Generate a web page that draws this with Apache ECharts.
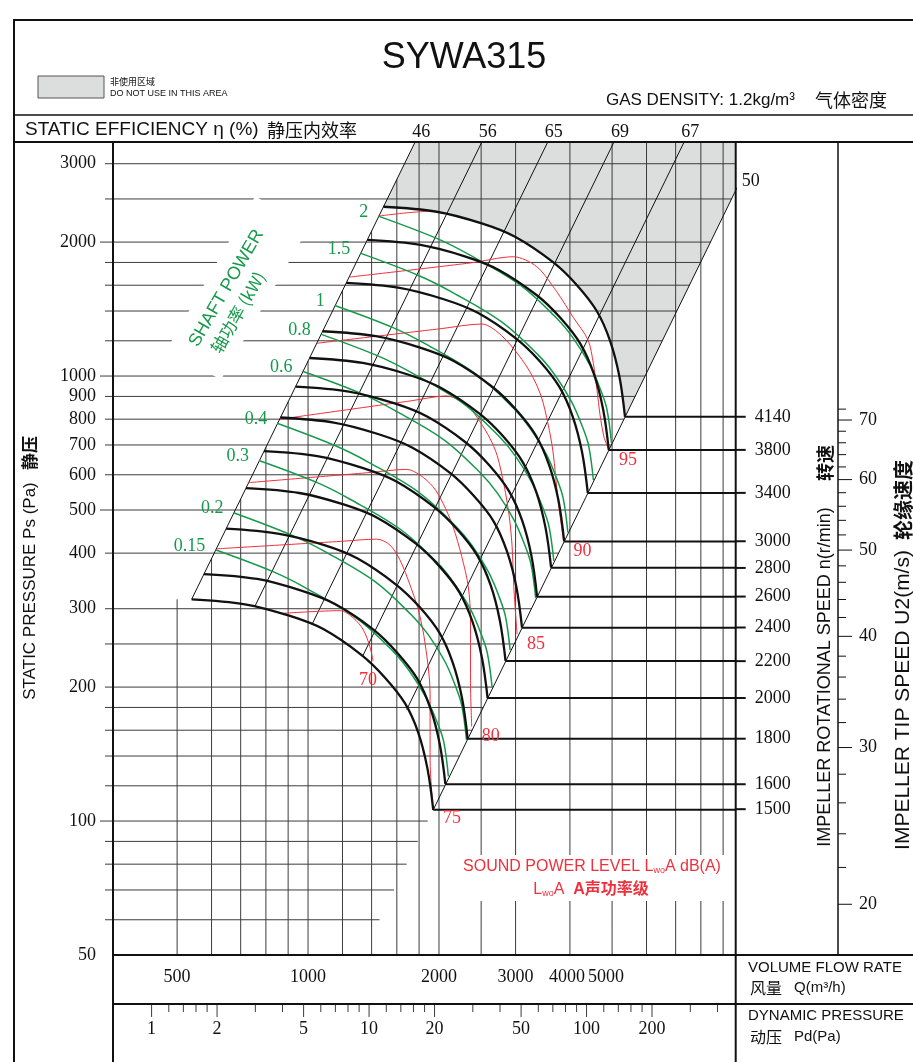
<!DOCTYPE html>
<html>
<head>
<meta charset="utf-8">
<script src="https://cdn.jsdelivr.net/npm/echarts@6/dist/echarts.min.js"></script>
<style>html,body{margin:0;padding:0;background:#fff}#c{width:913px;height:1062px}</style>
</head>
<body>
<div id="c"></div>
<script>
// ================= DATA =================
// Fan curves: static pressure Ps (Pa) vs volume flow Q (m3/h) for each speed (r/min)
const speeds = [4140, 3800, 3400, 3000, 2800, 2600, 2400, 2200, 2000, 1800, 1600, 1500];
const curve4140 = [[1490,2401],[1976,2340],[2508,2203],[2991,2056],[3664,1800],[4147,1602],[4610,1400],[4947,1200],[5195,1000],[5354,810]];
const curve3800 = [[1368,2023],[1814,1971],[2302,1856],[2745,1732],[3363,1517],[3806,1350],[4231,1180],[4541,1011],[4768,842],[4914,682]];
const curve3400 = [[1224,1619],[1623,1578],[2060,1486],[2456,1387],[3009,1214],[3406,1081],[3786,944],[4063,809],[4266,674],[4397,546]];
const curve3000 = [[1080,1261],[1432,1229],[1817,1157],[2167,1080],[2655,945],[3005,841],[3341,735],[3585,630],[3765,525],[3880,425]];
const curve2800 = [[1008,1098],[1336,1070],[1696,1008],[2023,940],[2478,823],[2805,733],[3118,640],[3346,549],[3514,457],[3621,371]];
const curve2600 = [[936,947],[1241,923],[1575,869],[1878,811],[2301,710],[2604,632],[2895,552],[3107,473],[3263,394],[3362,319]];
const curve2400 = [[864,807],[1146,786],[1454,740],[1734,691],[2124,605],[2404,538],[2673,471],[2868,403],[3012,336],[3104,272]];
const curve2200 = [[792,678],[1050,661],[1333,622],[1589,581],[1947,508],[2204,452],[2450,395],[2629,339],[2761,282],[2845,229]];
const curve2000 = [[720,560],[955,546],[1212,514],[1445,480],[1770,420],[2003,374],[2227,327],[2390,280],[2510,233],[2587,189]];
const curve1800 = [[648,454],[859,442],[1090,417],[1300,389],[1593,340],[1803,303],[2004,265],[2151,227],[2259,189],[2328,153]];
const curve1600 = [[576,359],[764,350],[969,329],[1156,307],[1416,269],[1603,239],[1782,209],[1912,179],[2008,149],[2069,121]];
const curve1500 = [[540,315],[716,307],[909,289],[1084,270],[1328,236],[1503,210],[1670,184],[1792,158],[1882,131],[1940,106]];

// Shaft power contours (kW)
const powerLabels = ['2', '1.5', '1', '0.8', '0.6', '0.4', '0.3', '0.2', '0.15'];
const power2    = [[1451,2288],[1976,2039],[2357,1870],[3072,1602],[3730,1348],[4073,1215],[4449,1058],[4692,938],[4860,846],[4985,707]];
const power1_5  = [[1318,1889],[1795,1683],[2142,1544],[2791,1322],[3389,1113],[3701,1003],[4042,873],[4263,774],[4416,698],[4529,584]];
const power1    = [[1152,1441],[1568,1285],[1871,1178],[2438,1009],[2961,849],[3233,765],[3531,667],[3724,591],[3857,533],[3957,445]];
const power0_8  = [[1069,1242],[1456,1107],[1737,1015],[2264,870],[2748,732],[3001,660],[3278,574],[3457,509],[3581,459],[3673,384]];
const power0_6  = [[971,1025],[1323,914],[1578,838],[2057,718],[2497,604],[2727,545],[2978,474],[3141,420],[3253,379],[3337,317]];
const power0_4  = [[849,783],[1156,697],[1378,640],[1797,548],[2181,461],[2382,416],[2602,362],[2744,321],[2842,289],[2915,242]];
const power0_3  = [[771,646],[1050,576],[1252,528],[1632,452],[1982,381],[2164,343],[2364,299],[2493,265],[2582,239],[2649,200]];
const power0_2  = [[674,493],[917,439],[1094,403],[1426,345],[1731,290],[1891,262],[2065,228],[2178,202],[2256,182],[2314,152]];
const power0_15 = [[612,407],[833,363],[994,333],[1296,285],[1573,240],[1718,216],[1876,188],[1979,167],[2050,151],[2102,126]];

// Sound power level contours LwoA dB(A)
const soundLabels = ['70', '75', '80', '85', '90', '95'];
const sound70  = [[877,293],[1185,297],[1271,286],[1340,269],[1388,246],[1411,229]];
const sound75  = [[617,409],[1185,425],[1439,430],[1543,417],[1627,386],[1716,339],[1793,298],[1858,251],[1908,194],[1908,137],[1938,107]];
const sound80  = [[729,576],[1388,607],[1686,617],[1809,599],[1938,564],[2043,518],[2154,459],[2256,393],[2336,336],[2363,283],[2363,207],[2378,163]];
const sound85  = [[862,800],[1716,879],[2084,902],[2236,881],[2357,846],[2486,789],[2620,724],[2720,664],[2822,569],[2898,487],[2944,417],[2975,330],[3024,263]];
const sound90  = [[1049,1185],[2011,1277],[2512,1309],[2720,1258],[2965,1154],[3238,1022],[3433,902],[3563,780],[3658,675],[3756,526],[3867,426]];
const sound95  = [[1246,1669],[2357,1795],[2965,1854],[3355,1761],[3730,1547],[4073,1354],[4402,1205],[4528,1068],[4617,930],[4692,817],[4792,729],[4920,682]];
const sound100 = [[1451,2288],[1671,2325],[1908,2349]];

// Static efficiency lines (%) (straight system lines in log-log)
const effLabels = ['46', '56', '65', '69', '67', '50'];
const eff46 = [[540,315],[1924,4000]];
const eff56 = [[755,304],[2739,4000]];
const eff65 = [[1020,276],[3883,4000]];
const eff69 = [[1333,234],[5513,4000]];
const eff67 = [[1686,178],[7992,4000]];
const eff50 = [[1940,106],[11000,3417]];

// Axis extents and tick values
const Q_MIN = 356.1, Q_MAX = 9620;       // volume flow m3/h
const P_MIN = 50, P_MAX = 3357;          // static pressure Pa
const PD_MIN = 0.6646, PD_MAX = 485.1;   // dynamic pressure Pa
const N_MIN = 1028.6, N_MAX = 8428;      // rotational speed r/min
const U_MIN = 17.54, U_MAX = 143.7;      // tip speed m/s
const xTickLabels = [500, 1000, 2000, 3000, 4000, 5000];
const yTickLabels = [50, 100, 200, 300, 400, 500, 600, 700, 800, 900, 1000, 2000, 3000];
const gridQ = [500, 600, 700, 800, 900, 1000, 1200, 1400, 1600, 1800, 2000, 2500, 3000, 4000, 5000, 6000, 7000, 8000, 9000];
const gridP = [60, 70, 80, 90, 100, 120, 140, 160, 180, 200, 250, 300, 400, 500, 600, 700, 800, 900, 1000, 1200, 1400, 1600, 1800, 2000, 2500, 3000];
const majorPTicks = [100, 500, 1000, 2000];
const pdTickLabels = [1, 2, 5, 10, 20, 50, 100, 200];
const pdMinorTicks = [1.2, 1.4, 1.6, 1.8, 3, 4, 6, 7, 8, 9, 12, 14, 16, 18, 30, 40, 60, 70, 80, 90, 120, 140, 160, 180, 300, 400];
const tipTickLabels = [20, 30, 40, 50, 60, 70];
const tipMinorTicks = [22, 24, 26, 28, 32, 34, 36, 38, 42, 44, 46, 48, 52, 54, 56, 58, 62, 64, 66, 68, 72];

// ================= STYLE / LAYOUT =================
const BLACK = '#111111', GRID_C = '#3c3c3c', GREEN = '#16994b', RED = '#f0303c', GREY = '#dcdddd';
const SERIF = '"Liberation Serif", "Times New Roman", serif';
const SANS = '"Liberation Sans", Arial, sans-serif';
const CJK = '"Noto Sans CJK SC", sans-serif';
const PL = 113, PT = 142, PR = 735.7, PB = 955, PD_TOP = 1004, TIP_X = 838;
const xLabelShift = { 4000: -3, 5000: -6 };

const speedCurves = [curve4140, curve3800, curve3400, curve3000, curve2800, curve2600, curve2400, curve2200, curve2000, curve1800, curve1600, curve1500];
const powerCurves = [power2, power1_5, power1, power0_8, power0_6, power0_4, power0_3, power0_2, power0_15];
const soundCurves = [sound70, sound75, sound80, sound85, sound90, sound95];
const effLines = [eff46, eff56, eff65, eff69, eff67, eff50];
const kOf = l => l[0][1] / (l[0][0] * l[0][0]);
const K46 = kOf(eff46), K50 = kOf(eff50);
const greyPts = [eff46[1], [eff50[1][0], eff46[1][1]], eff50[1]].concat(curve4140.slice().reverse());

function txt(x, y, text, font, fill, align, va, extra) {
  return { type: 'text', x, y, style: Object.assign({ text, font, fill, align, verticalAlign: va, textAlign: align, textVerticalAlign: va }, extra || {}) };
}
function seg(x1, y1, x2, y2, w, c) {
  return { type: 'line', shape: { x1, y1, x2, y2 }, style: { stroke: c || BLACK, lineWidth: w } };
}
function marks(xi, yi, pts, draw, z, clip) {
  return {
    type: 'custom', xAxisIndex: xi, yAxisIndex: yi, coordinateSystem: 'cartesian2d',
    clip: !!clip, silent: true, z: z || 8, animation: false, data: pts,
    renderItem: (params, api) => draw(api.coord([api.value(0), api.value(1)]), params.dataIndex, api)
  };
}
function lineSeries(data, color, width, z, smooth) {
  return {
    type: 'line', xAxisIndex: 0, yAxisIndex: 0, data, showSymbol: false, symbol: 'none',
    smooth: smooth || false, lineStyle: { color, width }, z, silent: true, animation: false, clip: true
  };
}

const series = [];
// "do not use" area
series.push({
  type: 'custom', xAxisIndex: 0, yAxisIndex: 0, clip: true, silent: true, z: 1, animation: false,
  data: [[1000, 1000]],
  renderItem: (params, api) => ({ type: 'polygon', shape: { points: greyPts.map(p => api.coord(p)), smooth: 0 }, style: { fill: GREY } })
});
// horizontal grid lines (end on the 50% system line)
series.push(marks(0, 0, gridP.map(p => [Q_MIN, p]), (pt, i, api) => {
  const p = gridP[i];
  const b = api.coord([Math.min(Q_MAX, Math.sqrt(p / K50)), p]);
  return seg(pt[0], pt[1], b[0], b[1], 1, GRID_C);
}, 2, true));
// vertical grid lines (end on the 46% system line)
series.push(marks(0, 0, gridQ.map(q => [q, P_MIN]), (pt, i, api) => {
  const q = gridQ[i];
  const top = q < eff46[0][0] ? curve1500[0][1] : Math.min(P_MAX, K46 * q * q);
  const b = api.coord([q, top]);
  return seg(pt[0], pt[1], b[0], b[1], 1, GRID_C);
}, 2, true));
// efficiency lines
effLines.forEach(l => series.push(lineSeries(l, BLACK, 1, 3, false)));
// sound contours
[sound100].concat(soundCurves).forEach(c => series.push(lineSeries(c, RED, 1, 4, 0.3)));
// shaft power contours
powerCurves.forEach(c => series.push(lineSeries(c, GREEN, 1.5, 5, 0.35)));
// fan curves
speedCurves.forEach(c => series.push(lineSeries(c, BLACK, 2.3, 6, 0.35)));
// speed lines
speedCurves.forEach(c => { const e = c[c.length - 1]; series.push(lineSeries([e, [Q_MAX, e[1]]], BLACK, 2, 6, false)); });

// left axis ticks & labels
series.push(marks(0, 0, gridP.map(p => [Q_MIN, p]), (pt, i) => {
  const len = majorPTicks.indexOf(gridP[i]) >= 0 ? 13 : 8;
  return seg(pt[0] - len, pt[1], pt[0], pt[1], 1, GRID_C);
}));
series.push(marks(0, 0, yTickLabels.map(p => [Q_MIN, p]), (pt, i) =>
  txt(pt[0] - 17, pt[1], String(yTickLabels[i]), `18px ${SERIF}`, BLACK, 'right', 'middle')));
// flow labels
series.push(marks(0, 0, xTickLabels.map(q => [q, P_MIN]), (pt, i) =>
  txt(pt[0] + (xLabelShift[xTickLabels[i]] || 0), pt[1] + 22, String(xTickLabels[i]), `18px ${SERIF}`, BLACK, 'center', 'middle')));
// dynamic pressure ticks & labels
series.push(marks(1, 3, pdMinorTicks.map(v => [v, 1]), (pt) => seg(pt[0], pt[1], pt[0], pt[1] + 8, 1, GRID_C)));
series.push(marks(1, 3, pdTickLabels.map(v => [v, 1]), (pt, i) => ({
  type: 'group', children: [
    seg(pt[0], pt[1], pt[0], pt[1] + 13, 1, GRID_C),
    txt(pt[0], pt[1] + 25, String(pdTickLabels[i]), `18px ${SERIF}`, BLACK, 'center', 'middle')
  ]
})));
// rotational speed ticks & labels
series.push(marks(0, 1, speeds.map(n => [Q_MAX, n]), (pt, i) => ({
  type: 'group', children: [
    seg(pt[0], pt[1], pt[0] + 10, pt[1], 2, BLACK),
    txt(pt[0] + 19, pt[1], String(speeds[i]), `18px ${SERIF}`, BLACK, 'left', 'middle')
  ]
})));
// tip speed ticks & labels
series.push(marks(0, 2, tipMinorTicks.map(u => [Q_MAX, u]), (pt) => seg(TIP_X, pt[1], TIP_X + 8, pt[1], 1, BLACK)));
series.push(marks(0, 2, tipTickLabels.map(u => [Q_MAX, u]), (pt, i) => ({
  type: 'group', children: [
    seg(TIP_X, pt[1], TIP_X + 14, pt[1], 1, BLACK),
    txt(TIP_X + 21, pt[1], String(tipTickLabels[i]), `18px ${SERIF}`, BLACK, 'left', 'middle')
  ]
})));
// shaft power labels
series.push(marks(0, 0, powerCurves.map(c => c[0]), (pt, i) =>
  txt(pt[0] - 10, pt[1] - 4, powerLabels[i], `18px ${SERIF}`, GREEN, 'right', 'middle')));
// sound labels
series.push(marks(0, 0, soundCurves.map(c => c[c.length - 1]), (pt, i) =>
  txt(pt[0] + (i === 0 ? -5 : 19), pt[1] + (i === 0 ? 19 : 10), soundLabels[i], `18px ${SERIF}`, RED, 'center', 'middle')));
// efficiency labels on top
series.push(marks(0, 0, effLines.slice(0, 5).map(l => [Math.sqrt(P_MAX / kOf(l)), P_MAX]), (pt, i) =>
  txt(pt[0] + 6, pt[1] - 10, effLabels[i], `18px ${SERIF}`, BLACK, 'center', 'middle')));
series.push(marks(0, 0, [[Q_MAX, K50 * Q_MAX * Q_MAX]], (pt) =>
  txt(pt[0] + 6, pt[1] - 10, effLabels[5], `18px ${SERIF}`, BLACK, 'left', 'middle')));

// ================= GRAPHIC (frame & titles) =================
const G = [];
const gl = (x1, y1, x2, y2, w) => Object.assign(seg(x1, y1, x2, y2, w, BLACK), { z: 50, silent: true });
G.push(gl(14, 20, 913, 20, 2), gl(14, 19, 14, 1062, 2), gl(14, 115, 913, 115, 1.5), gl(14, 142, 913, 142, 2));
G.push(gl(PL, PT, PL, 1062, 2), gl(PL, PB, 913, PB, 2), gl(PL, PD_TOP, 913, PD_TOP, 2));
G.push(gl(PR, PT, PR, 1062, 2), gl(TIP_X, PT, TIP_X, PB, 1.5));
const gt = (x, y, text, font, fill, align, va, rot, extra) => Object.assign(txt(x, y, text, font, fill, align, va, extra), { z: 60, silent: true, rotation: rot || 0 });

G.push(gt(464, 58, 'SYWA315', `36px ${SANS}`, BLACK, 'center', 'middle'));
G.push({ type: 'rect', shape: { x: 38, y: 76, width: 66, height: 22 }, style: { fill: GREY, stroke: '#555', lineWidth: 1 }, z: 60, silent: true });
G.push(gt(110, 82, '非使用区域', `9px ${CJK}`, BLACK, 'left', 'middle'));
G.push(gt(110, 94, 'DO NOT USE IN THIS AREA', `9px ${SANS}`, BLACK, 'left', 'middle'));
G.push(gt(606, 100, 'GAS DENSITY: 1.2kg/m³', `17px ${SANS}`, BLACK, 'left', 'middle'));
G.push(gt(815, 100, '气体密度', `18px ${CJK}`, BLACK, 'left', 'middle'));
G.push(gt(25, 130, 'STATIC EFFICIENCY η (%)', `19px ${SANS}`, BLACK, 'left', 'middle'));
G.push(gt(267, 130, '静压内效率', `18px ${CJK}`, BLACK, 'left', 'middle'));
// axis titles (rotated)
G.push(gt(30, 591, 'STATIC PRESSURE Ps (Pa)', `17px ${SANS}`, BLACK, 'center', 'middle', Math.PI / 2));
G.push(gt(30, 453, '静压', `bold 17px ${CJK}`, BLACK, 'center', 'middle', Math.PI / 2));
G.push(gt(825, 677, 'IMPELLER ROTATIONAL SPEED n(r/min)', `18px ${SANS}`, BLACK, 'center', 'middle', Math.PI / 2));
G.push(gt(825, 463, '转速', `bold 18px ${CJK}`, BLACK, 'center', 'middle', Math.PI / 2));
G.push(gt(903, 700, 'IMPELLER TIP SPEED U2(m/s)', `21px ${SANS}`, BLACK, 'center', 'middle', Math.PI / 2));
G.push(gt(903, 500, '轮缘速度', `bold 20px ${CJK}`, BLACK, 'center', 'middle', Math.PI / 2));
// bottom-right captions
G.push(gt(748, 968, 'VOLUME FLOW RATE', `15px ${SANS}`, BLACK, 'left', 'middle'));
G.push(gt(750, 988, '风量', `16px ${CJK}`, BLACK, 'left', 'middle'));
G.push(gt(794, 988, 'Q(m³/h)', `15px ${SANS}`, BLACK, 'left', 'middle'));
G.push(gt(748, 1016, 'DYNAMIC PRESSURE', `15px ${SANS}`, BLACK, 'left', 'middle'));
G.push(gt(750, 1037, '动压', `16px ${CJK}`, BLACK, 'left', 'middle'));
G.push(gt(794, 1037, 'Pd(Pa)', `15px ${SANS}`, BLACK, 'left', 'middle'));
// sound power caption with white box
G.push({ type: 'rect', shape: { x: 460, y: 855, width: 266, height: 46 }, style: { fill: '#fff' }, z: 55, silent: true });
const RICH = {
  a: { fontSize: 16, fontFamily: SANS, fill: RED, color: RED },
  s: { fontSize: 9, fontFamily: SANS, fill: RED, color: RED, verticalAlign: 'bottom' },
  b: { fontSize: 16, fontFamily: '"Liberation Sans", "Noto Sans CJK SC"', fontWeight: 'bold', fill: RED, color: RED }
};
G.push(gt(592, 867, '{a|SOUND POWER LEVEL L}{s|wo}{a|A dB(A)}', `16px ${SANS}`, RED, 'center', 'middle', 0, { rich: RICH }));
G.push(gt(591, 890, '{a|L}{s|wo}{a|A  }{b|A声功率级}', `16px ${SANS}`, RED, 'center', 'middle', 0, { rich: RICH }));
// shaft power caption with white background (rotated)
G.push({
  type: 'group', x: 238, y: 288, rotation: Math.PI / 3, z: 55, silent: true, children: [
    { type: 'rect', shape: { x: -88, y: -31, width: 176, height: 62 }, style: { fill: '#fff' }, z: 55 },
    Object.assign(txt(-6, -10, 'SHAFT POWER', `18px ${SANS}`, GREEN, 'center', 'middle'), { z: 56 }),
    Object.assign(txt(-21, 12, '轴功率 (kW)', `17px ${CJK}`, GREEN, 'center', 'middle'), { z: 56 })
  ]
});

const option = {
  animation: false,
  backgroundColor: '#fff',
  grid: [
    { left: PL, top: PT, width: PR - PL, height: PB - PT, containLabel: false, show: false },
    { left: PL, top: PD_TOP, width: PR - PL, height: 1062 - PD_TOP, containLabel: false, show: false }
  ],
  xAxis: [
    { gridIndex: 0, type: 'log', min: Q_MIN, max: Q_MAX, show: false },
    { gridIndex: 1, type: 'log', min: PD_MIN, max: PD_MAX, show: false }
  ],
  yAxis: [
    { gridIndex: 0, type: 'log', min: P_MIN, max: P_MAX, show: false },
    { gridIndex: 0, type: 'log', min: N_MIN, max: N_MAX, show: false },
    { gridIndex: 0, type: 'log', min: U_MIN, max: U_MAX, show: false },
    { gridIndex: 1, type: 'value', min: 0, max: 1, show: false }
  ],
  series,
  graphic: { elements: G }
};
const chart = echarts.init(document.getElementById('c'), null, { renderer: 'canvas', width: 913, height: 1062 });
chart.setOption(option);
</script>
</body>
</html>
